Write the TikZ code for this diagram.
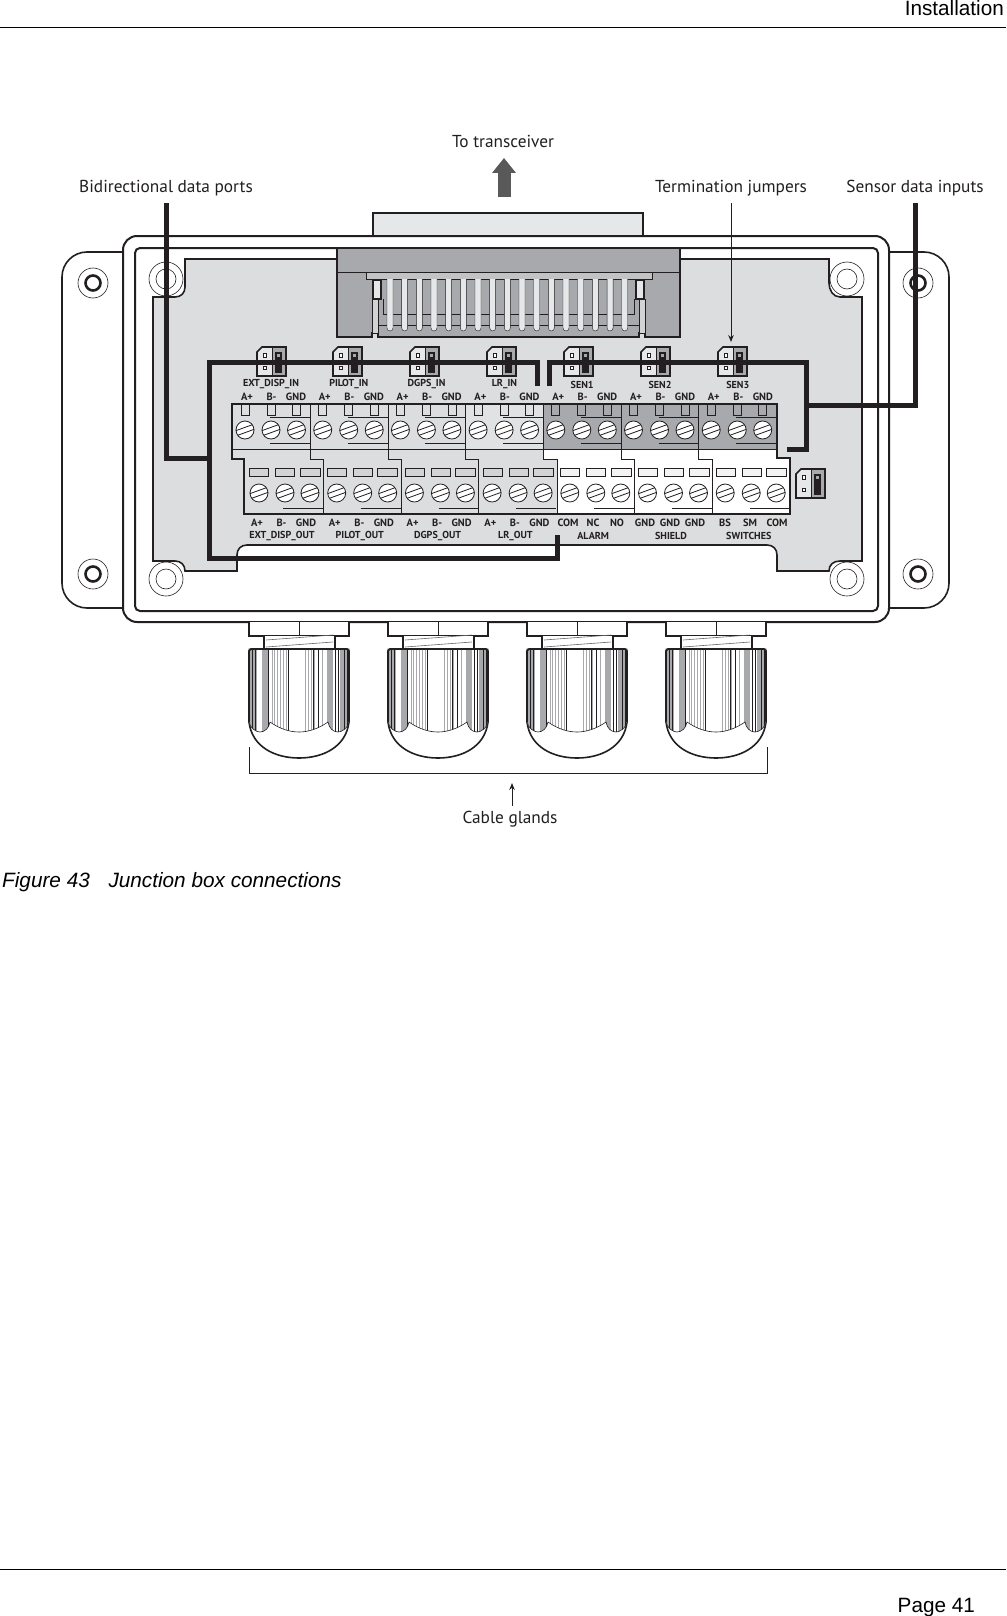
\documentclass[tikz,border=0pt]{standalone}
\usepackage{fontspec}
\setmainfont{PT Sans}
\newfontfamily\pagefont{Liberation Sans}
\usetikzlibrary{positioning}
\usetikzlibrary{arrows.meta}
\definecolor{boardgrey}{HTML}{DCDDDE}
\definecolor{midgrey}{HTML}{A7A9AC}
\definecolor{palegrey}{HTML}{E6E7E8}
\definecolor{slotgrey}{HTML}{D1D3D4}
\definecolor{inkblack}{HTML}{231F20}
\tikzset{
	boxline/.style={draw=inkblack,line width=1.6pt},
	thinline/.style={draw=inkblack,line width=0.8pt},
	wire/.style={draw=inkblack,line width=5pt,line join=miter},
	pinlabel/.style={font=\bfseries\fontsize{10.5}{11}\selectfont,text=inkblack,inner sep=0pt},
	namelabel/.style={pinlabel,font=\bfseries\fontsize{10.1}{11}\selectfont},
	calloutlabel/.style={font=\fontsize{17.3}{18}\selectfont,text=inkblack,inner sep=0pt,minimum height=30pt},
	pagelabel/.style={font=\pagefont\fontsize{20.7}{22}\selectfont,text=black,inner sep=0pt},
	glandbody/.style={insert path={(249,649) -- (349,649) -- (349,722)
		.. controls (348,728) and (342,732) .. (338,732) .. controls (333,732) and (329,728) .. (328,722)
		.. controls (318,729) and (308,732) .. (299,732) .. controls (290,732) and (280,729) .. (270,722)
		.. controls (269,728) and (265,732) .. (260,732) .. controls (256,732) and (250,728) .. (249,722) -- cycle}}
}
% screw head with its slot
\newcommand{\screwhead}[2]{
	\draw[thinline,fill=white] (#1,#2) circle (9);
	\draw[thinline] (#1-8.9,#2+0.6) -- (#1+7.3,#2-5.3);
	\draw[thinline] (#1-7.3,#2+5.3) -- (#1+8.9,#2-0.6);
}
% termination jumper, by its top left corner
\newcommand{\jumper}[2]{
	\begin{scope}[shift={(#1,#2)}]
		\draw[boxline,fill=palegrey] (5,0) -- (29,0) -- (29,29) -- (0,29) -- (0,5) -- cycle;
		\fill[midgrey] (15,0.8) rectangle (28.2,28.2);
		\draw[inkblack,line width=0.9pt] (15,0) -- (15,29);
		\fill[inkblack] (18,5) rectangle (25,26);
		\fill[midgrey] (19.5,6.8) rectangle (23,10.3);
		\draw[inkblack,line width=0.8pt,fill=white] (6.2,6.8) rectangle (9.8,10.3);
		\draw[inkblack,line width=0.8pt,fill=white] (6.2,19.3) rectangle (9.8,22.8);
	\end{scope}
}
\begin{document}
\begin{tikzpicture}[x=1pt,y=-1pt]
	\useasboundingbox (0,0) rectangle (1006,1616);
	\fill[white] (0,0) rectangle (1006,1616);

	% page furniture
	\draw[black,line width=1pt] (0,27.5) -- (1006,27.5);
	\draw[black,line width=1pt] (0,1569) -- (1006,1569);
	\node[pagelabel,anchor=base east] (pagehead) at (1004,16) {Installation};
	\node[pagelabel,anchor=base east] (pagefoot) at (975,1612) {Page 41};
	\node[pagelabel,anchor=base west,font=\pagefont\itshape\fontsize{20.75}{22}\selectfont] (figcaption) at (2,887) {Figure 43\hspace{0.9em}Junction box connections};

	% tab to the transceiver
	\draw[boxline,fill=palegrey] (373,236) -- (373,213) -- (643,213) -- (643,236);

	% flange and enclosure
	\draw[boxline,fill=white,rounded corners=25pt] (62,252) rectangle (949,608);
	\draw[boxline,line width=2pt,fill=white,rounded corners=14pt] (123,236) rectangle (889,622);
	\draw[boxline,line width=2pt,rounded corners=5pt] (135,248) rectangle (878,611);
	\foreach \x in {93,918} \foreach \y in {283,574} {
		\draw[inkblack,line width=0.6pt] (\x,\y) circle (15);
		\draw[inkblack,line width=2.6pt] (\x,\y) circle (7.5);
	}

	% circuit board
	\draw[boxline,fill=boardgrey] (185,259) -- (829,259) -- (829,283)
		.. controls (829,290) and (833,297) .. (840,297) -- (862,297) -- (862,561) -- (840,561)
		.. controls (833,561) and (829,565) .. (829,571) -- (777,571) -- (777,555)
		.. controls (777,549) and (773,545) .. (767,545) -- (247,545)
		.. controls (241,545) and (237,549) .. (237,555) -- (237,571) -- (185,571)
		.. controls (185,565) and (181,561) .. (175,561) -- (153,561) -- (153,297) -- (175,297)
		.. controls (181,297) and (185,293) .. (185,287) -- cycle;
	\foreach \x in {166,847} \foreach \y in {279,579} {
		\draw[inkblack,line width=0.6pt,fill=white] (\x,\y) circle (17);
		\draw[inkblack,line width=0.6pt] (\x,\y) circle (10);
	}

	% ribbon connector
	\draw[boxline,line width=2pt,fill=midgrey] (337,248) -- (680,248) -- (680,337) -- (645,337) -- (645,333) -- (639,333)
		-- (639,337) -- (378,337) -- (378,333) -- (372,333) -- (372,337) -- (337,337) -- cycle;
	\draw[thinline] (337,272) -- (680,272);
	\draw[thinline,fill=midgrey!70!white] (366,272) rectangle (652,279);
	\foreach \x in {372,639} {
		\draw[thinline,fill=slotgrey] (\x,299) rectangle ++(6,34);
	}
	\draw[boxline,fill=palegrey] (373,280) rectangle (381,299);
	\draw[boxline,fill=palegrey] (636,280) rectangle (644,299);
	\draw[thinline] (383,299) -- (383,314) -- (634,314) -- (634,299);
	\draw[thinline] (378,325) -- (639,325);
	\foreach \i in {0,...,16} {
		\draw[inkblack,line width=0.4pt,fill=palegrey,rounded corners=3pt] (390-3+\i*14.67,279) -- (390-3+\i*14.67,331) -- (390+3+\i*14.67,331) -- (390+3+\i*14.67,279);
	}

	% terminal block fills
	\fill[midgrey] (543,404) rectangle (777,449);
	\fill[white] (543,449) -- (777,449) -- (777,458) -- (790,458) -- (790,514) -- (557,514) -- (557,459) -- (543,459) -- cycle;
	\fill[palegrey!50!boardgrey] (465,404) rectangle (543,449);

	% terminal block dividers
	\draw[thinline] (232,449) -- (777,449);
	\foreach \a/\b in {310/323,388/401,465/478,543/557,621/634,698/712} {
		\draw[thinline] (\a,404) -- (\a,459) -- (\b,459) -- (\b,514);
	}

	% upper row
	\foreach \s in {0,...,6} {
		\foreach \o in {13,39,64.5} {
			\draw[thinline] (232+\s*77.7+\o-4,404) rectangle (232+\s*77.7+\o+4,415);
			\screwhead{232+\s*77.7+\o}{430}
		}
		\draw[thinline] (270+\s*77.7,417) -- (310+\s*77.7,417);
		\draw[thinline] (270+\s*77.7,443) -- (310+\s*77.7,443);
	}

	% lower row
	\foreach \s in {0,...,6} {
		\pgfmathsetmacro{\slotcol}{\s<4 ? "slotgrey" : "palegrey!50!white"}
		\foreach \o/\w in {15/19,41/19,66/20} {
			\draw[thinline,fill=\slotcol] (244+\s*77.8+\o-\w/2,468) rectangle (244+\s*77.8+\o+\w/2,476);
			\screwhead{244+\s*77.7+\o}{493}
		}
		\draw[thinline] (283+\s*77.8,508) -- (323+\s*77.8,508);
	}

	% terminal block outline
	\draw[boxline,line width=2pt] (232,404) -- (777,404) -- (777,458) -- (790,458) -- (790,514) -- (244,514) -- (244,459) -- (232,459) -- cycle;

	% jumpers
	\foreach \x in {257,333,410,487,564,641,718} {
		\jumper{\x}{347}
	}
	\jumper{796}{469}

	% upper labels
	\foreach \n/\t [count=\i from 0] in {EXT_DISP_IN/EXT\_DISP\_IN,PILOT_IN/PILOT\_IN,DGPS_IN/DGPS\_IN,LR_IN/LR\_IN,SEN1/SEN1,SEN2/SEN2,SEN3/SEN3} {
		\node[namelabel] (name\n) at (271+\i*77.8,384.5) {\t};
		\node[pinlabel] (upa\i) at (247+\i*77.8,397) {A+};
		\node[pinlabel] (upb\i) at (271.5+\i*77.8,397) {B-};
		\node[pinlabel] (upg\i) at (296+\i*77.8,397) {GND};
	}

	% lower labels
	\foreach \n/\t [count=\i from 0] in {EXT_DISP_OUT/EXT\_DISP\_OUT,PILOT_OUT/PILOT\_OUT,DGPS_OUT/DGPS\_OUT,LR_OUT/LR\_OUT,ALARM/ALARM,SHIELD/SHIELD,SWITCHES/SWITCHES} {
		\node[namelabel] (name\n) at (282+\i*77.8,536) {\t};
	}
	\foreach \i in {0,...,3} {
		\node[pinlabel] (lowa\i) at (257+\i*77.8,523) {A+};
		\node[pinlabel] (lowb\i) at (281.5+\i*77.8,523) {B-};
		\node[pinlabel] (lowg\i) at (306+\i*77.8,523) {GND};
	}
	\foreach \x/\t [count=\i] in {568/COM,593/NC,617/NO,645/GND,670/GND,695/GND,725/BS,750/SM,777/COM} {
		\node[pinlabel] (lowx\i) at (\x,523) {\t};
	}

	% cable glands
	\foreach \g in {0,1,2,3} {
		\begin{scope}[xshift=\g*139pt]
			\draw[boxline,fill=white] (249,622) -- (249,636) -- (349,636) -- (349,622);
			\draw[thinline] (299,622) -- (299,636);
			\draw[boxline,fill=white] (264,636) -- (264,650) -- (335,650) -- (335,636);
			\draw[midgrey!60!black,line width=0.6pt] (266,640) -- (333,635);
			\draw[midgrey!60!black,line width=0.6pt] (266,647) -- (333,642);
			\draw[boxline,fill=white] (249,722) .. controls (252,747) and (275,758) .. (299,758) .. controls (323,758) and (346,747) .. (349,722);
			\begin{scope}
				\clip[glandbody];
				\fill[white] (249,649) rectangle (349,735);
				\fill[midgrey] (249,649) rectangle (257,735);
				\fill[midgrey] (262,649) rectangle (269,735);
				\fill[midgrey] (327,649) rectangle (333,735);
				\fill[midgrey] (340,649) rectangle (349,735);
				\foreach \x in {272,274,277,280,283,286,305,308,311,314,318,322} {
					\draw[midgrey,line width=0.6pt] (\x,649) -- (\x,735);
				}
				\foreach \x in {288,313,318} {
					\draw[inkblack,line width=0.6pt] (\x,649) -- (\x,735);
				}
				\foreach \x in {252,255,268,335,338,344,347} {
					\draw[inkblack,line width=1pt] (\x,649) -- (\x,735);
				}
			\end{scope}
			\draw[thinline,line width=0.6pt,glandbody];
			\draw[boxline] (249,722) -- (249,651) -- (251,649) -- (347,649) -- (349,651) -- (349,722);
		\end{scope}
	}

	% callouts
	\node[calloutlabel] (transceiver) at (503,141) {To transceiver};
	\node[calloutlabel] (bidir) at (166,188) {Bidirectional data ports};
	\node[calloutlabel] (termination) at (731,188) {Termination jumpers};
	\node[calloutlabel] (sensor) at (915,188) {Sensor data inputs};
	\node[calloutlabel,minimum height=20pt] (glands) at (510,819) {Cable glands};

	\coordinate (ttail) at (504,197);
	\coordinate (thead) at (504,158);
	\draw[-{Triangle[length=15pt,width=23pt]},line width=13pt,draw=black!65,fill=black!65] (ttail) -- (thead);

	% wires
	\coordinate (frameend) at (209,458);
	\coordinate (jumpertip) at (731,342);
	\coordinate (wirea) at (537,386);
	\coordinate (wireb) at (557,535);
	\coordinate (wirec) at (549,386);
	\coordinate (wired) at (787,449);
	\coordinate (sensorend) at (806,405);
	\coordinate (bracketl) at (249,747);
	\coordinate (bracketr) at (767,747);
	\coordinate (glandtail) at (512,806);
	\coordinate (glandtip) at (512,783);
	\draw[wire] (bidir.south) |- (frameend);
	\draw[wire] (sensor.south) |- (sensorend);
	\draw[wire] (wirea) -- (537,362) -- (209,362) -- (209,558) -- (557,558) -- (wireb);
	\draw[wire] (wirec) -- (549,362) -- (806,362) -- (806,449) -- (wired);
	\draw[inkblack,line width=0.9pt,-{Stealth[length=7pt,width=5.5pt]}] (termination.south) -- (jumpertip);
	\draw[inkblack,line width=0.9pt] (bracketl) -- (249,773) -- (767,773) -- (bracketr);
	\draw[inkblack,line width=0.9pt,-{Stealth[length=7pt,width=5.5pt]}] (glandtail) -- (glandtip);
\end{tikzpicture}
\end{document}
